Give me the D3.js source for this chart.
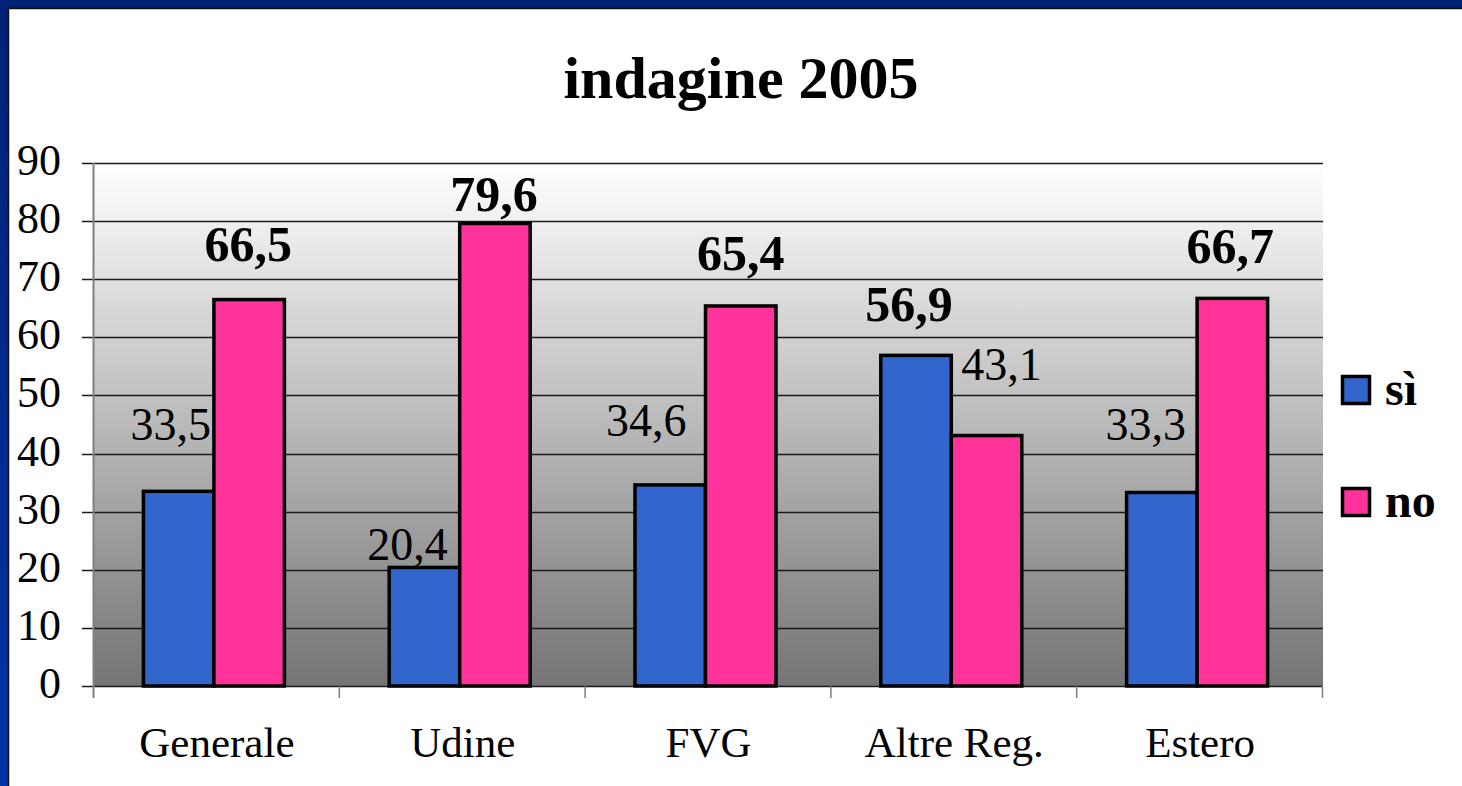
<!DOCTYPE html>
<html><head><meta charset="utf-8">
<script src="https://cdn.jsdelivr.net/npm/d3@7"></script>
<style>body{margin:0;background:#fff}svg{display:block}</style>
</head><body>
<script>
const categories = ["Generale", "Udine", "FVG", "Altre Reg.", "Estero"];
const seriesNames = ["sì", "no"];
const siValues = [33.5, 20.4, 34.6, 56.9, 33.3];
const noValues = [66.5, 79.6, 65.4, 43.1, 66.7];
const yTicks = [0, 10, 20, 30, 40, 50, 60, 70, 80, 90];
const title = "indagine 2005";

// label placement (as dragged in the original)
const labelDx = [[-8, -17, -24, -7, -16], [-1, -1, 0, 15, -2]];
const labelDy = [[51, 7, 49, 34, 52], [39, 12, 36, 56, 35]];

(function () {
const W = 1462, H = 786;
const colors = ["#3366cc", "#ff3399"];
const svg = d3.select("body").append("svg").attr("width", W).attr("height", H);
const defs = svg.append("defs");
const bg = defs.append("linearGradient").attr("id", "plotbg").attr("x1", 0).attr("y1", 0).attr("x2", 0).attr("y2", 1);
bg.append("stop").attr("offset", "0%").attr("stop-color", "#ffffff");
bg.append("stop").attr("offset", "100%").attr("stop-color", "#747474");
const lb = defs.append("linearGradient").attr("id", "leftbar").attr("x1", 0).attr("y1", 0).attr("x2", 0).attr("y2", 1);
lb.append("stop").attr("offset", "0%").attr("stop-color", "#002276");
lb.append("stop").attr("offset", "100%").attr("stop-color", "#0033a6");

// frame
svg.append("rect").attr("x", 0).attr("y", 0).attr("width", W).attr("height", H).attr("fill", "#fff");
svg.append("rect").attr("x", 0).attr("y", 0).attr("width", 8).attr("height", H).attr("fill", "url(#leftbar)");
svg.append("rect").attr("x", 0).attr("y", 0).attr("width", W).attr("height", 8).attr("fill", "#002276");
svg.append("line").attr("x1", 8.5).attr("x2", 8.5).attr("y1", 8).attr("y2", H).attr("stroke", "#111").attr("stroke-width", 1.5);
svg.append("line").attr("x1", 8).attr("x2", W).attr("y1", 8.5).attr("y2", 8.5).attr("stroke", "#111").attr("stroke-width", 1.5);

const pLeft = 94, pRight = 1323, pTop = 163, pBottom = 686;
const y = d3.scaleLinear().domain([0, 90]).range([pBottom, pTop]);
const x0 = d3.scaleBand().domain(categories).range([pLeft, pRight]).padding(0);
const groupW = 141;
const x1 = d3.scaleBand().domain(seriesNames)
  .range([(x0.step() - groupW) / 2 - 3, (x0.step() + groupW) / 2 - 3]).padding(0);

svg.append("rect").attr("x", pLeft).attr("y", pTop).attr("width", pRight - pLeft).attr("height", pBottom - pTop).attr("fill", "url(#plotbg)");

// gridlines + y ticks
svg.append("g").selectAll("line").data(yTicks).join("line")
  .attr("x1", 82).attr("x2", pRight).attr("y1", d => Math.round(y(d)) + 0.5).attr("y2", d => Math.round(y(d)) + 0.5)
  .attr("stroke", "#1a1a1a").attr("stroke-width", 1.3);
svg.append("g").selectAll("text").data(yTicks).join("text")
  .attr("x", 61).attr("y", d => y(d) + 12).attr("text-anchor", "end")
  .attr("font-family", "Liberation Serif, Times New Roman, serif").attr("font-size", 44).attr("fill", "#000")
  .text(d => d);

// y axis line
svg.append("line").attr("x1", pLeft - 0.5).attr("x2", pLeft - 0.5).attr("y1", pTop).attr("y2", pBottom + 12)
  .attr("stroke", "#808080").attr("stroke-width", 2);
// x ticks at category boundaries
const bounds = categories.map(c => x0(c)).concat([pRight]);
svg.append("g").selectAll("line").data(bounds.slice(1)).join("line")
  .attr("x1", d => d - 0.5).attr("x2", d => d - 0.5).attr("y1", pBottom).attr("y2", pBottom + 12)
  .attr("stroke", "#808080").attr("stroke-width", 1.5);

// bars
const rows = categories.map((c, i) => ({c, i, vals: [siValues[i], noValues[i]]}));
const g = svg.append("g").selectAll("g").data(rows).join("g").attr("transform", d => `translate(${x0(d.c)},0)`);
g.selectAll("rect").data(d => d.vals.map((v, s) => ({v, s, i: d.i}))).join("rect")
  .attr("x", d => x1(seriesNames[d.s])).attr("y", d => y(d.v))
  .attr("width", x1.bandwidth()).attr("height", d => y(0) - y(d.v))
  .attr("fill", d => colors[d.s]).attr("stroke", "#000").attr("stroke-width", 3.5);

// value labels
g.selectAll("text").data(d => d.vals.map((v, s) => ({v, s, i: d.i, max: v === Math.max(...d.vals)}))).join("text")
  .attr("x", d => x1(seriesNames[d.s]) + x1.bandwidth() / 2 + labelDx[d.s][d.i])
  .attr("y", d => y(d.v) - labelDy[d.s][d.i])
  .attr("text-anchor", "middle")
  .attr("font-family", "Liberation Serif, Times New Roman, serif")
  .attr("font-size", d => d.max ? 50 : 46)
  .attr("font-weight", d => d.max ? "bold" : "normal")
  .attr("fill", "#000")
  .text(d => d.v.toFixed(1).replace(".", ","));

// category labels
svg.append("g").selectAll("text").data(categories).join("text")
  .attr("x", d => x0(d) + x0.bandwidth() / 2).attr("y", 757).attr("text-anchor", "middle")
  .attr("font-family", "Liberation Serif, Times New Roman, serif").attr("font-size", 43).attr("fill", "#000")
  .text(d => d);

// title
svg.append("text").attr("x", 741).attr("y", 98).attr("text-anchor", "middle")
  .attr("font-family", "Liberation Serif, Times New Roman, serif").attr("font-size", 60).attr("font-weight", "bold")
  .text(title);

// legend
const lg = svg.append("g").selectAll("g").data(seriesNames).join("g")
  .attr("transform", (d, i) => `translate(1341,${375 + i * 112})`);
lg.append("rect").attr("x", 1.5).attr("y", 1.5).attr("width", 27).attr("height", 27)
  .attr("fill", (d, i) => colors[i]).attr("stroke", "#000").attr("stroke-width", 3.5);
lg.append("text").attr("x", 44).attr("y", 30)
  .attr("font-family", "Liberation Serif, Times New Roman, serif").attr("font-size", 48).attr("font-weight", "bold")
  .text(d => d);
})();
</script>
</body></html>
